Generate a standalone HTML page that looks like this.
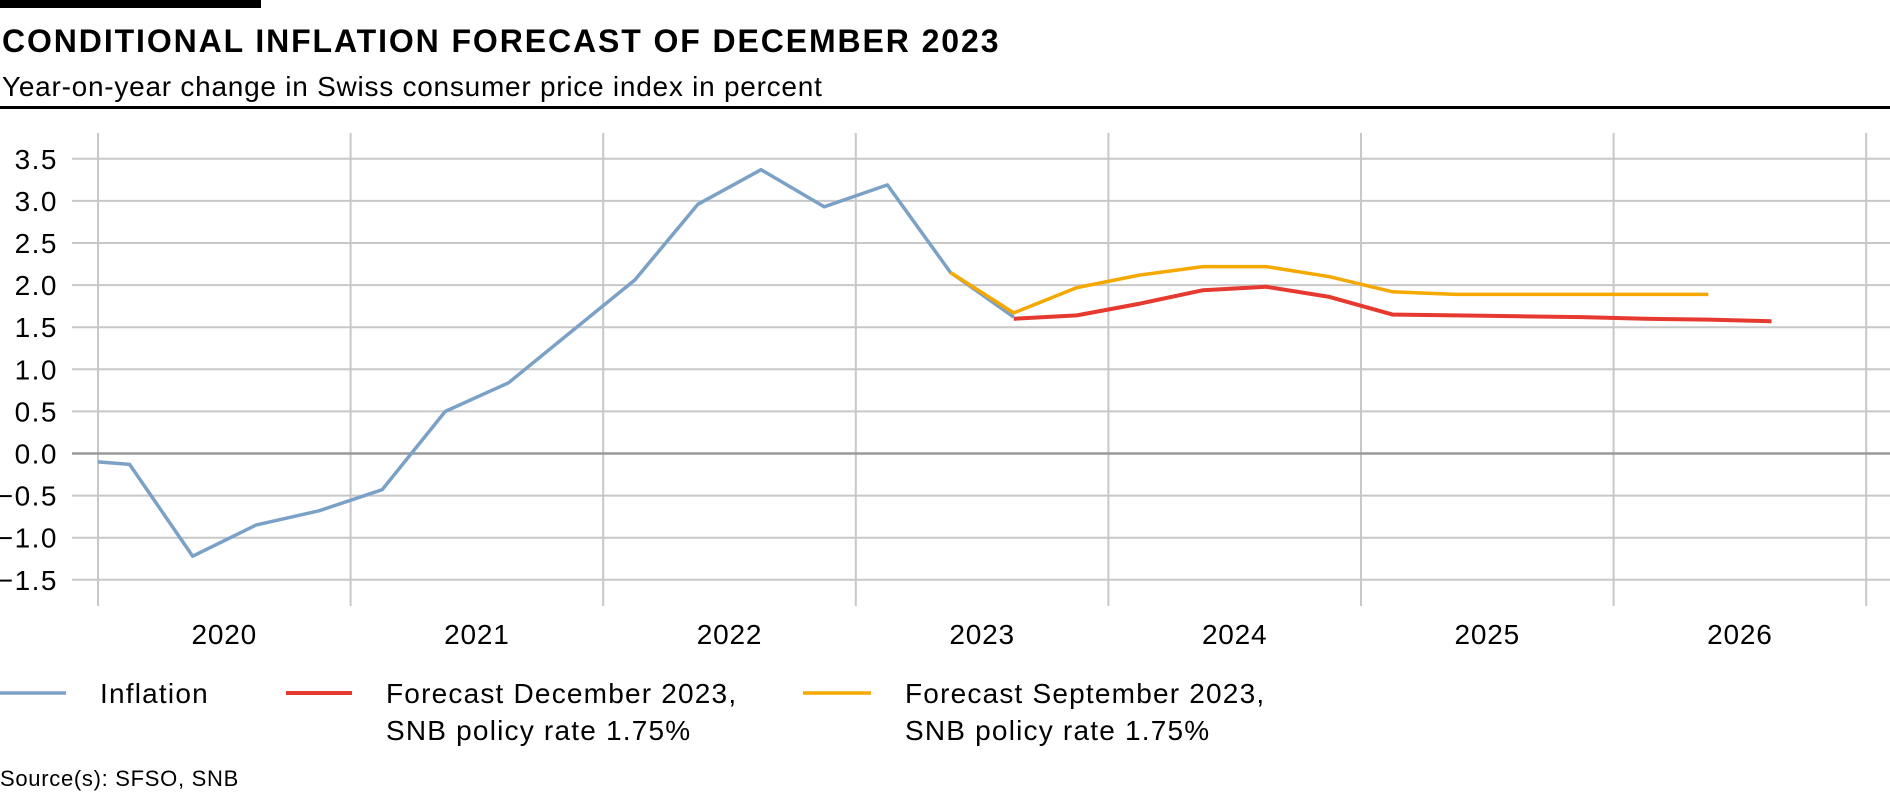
<!DOCTYPE html>
<html><head><meta charset="utf-8"><style>
html,body{margin:0;padding:0;background:#fff;}
svg{display:block;font-family:"Liberation Sans",Arial,sans-serif;}
</style></head><body>
<svg id="chart" width="1890" height="794" viewBox="0 0 1890 794">
<rect x="0" y="0" width="261" height="8" fill="#000"/>
<text x="2" y="52" font-size="32" font-weight="bold" letter-spacing="1.9" fill="#000">CONDITIONAL INFLATION FORECAST OF DECEMBER 2023</text>
<text x="2" y="96" font-size="28" letter-spacing="0.75" fill="#000">Year-on-year change in Swiss consumer price index in percent</text>
<rect x="0" y="106" width="1890" height="3" fill="#000"/>
<g id="grid"></g>
<g id="series"></g>
<g font-size="28" letter-spacing="1.2" fill="#000">
<line x1="0" y1="693" x2="66" y2="693" stroke="#7ba1c6" stroke-width="3.5"/>
<text x="100" y="703">Inflation</text>
<line x1="286" y1="693" x2="352" y2="693" stroke="#e63a30" stroke-width="4"/>
<text x="386" y="703">Forecast December 2023,</text>
<text x="386" y="740">SNB policy rate 1.75%</text>
<line x1="803" y1="693" x2="871" y2="693" stroke="#f5a800" stroke-width="3.5"/>
<text x="905" y="703">Forecast September 2023,</text>
<text x="905" y="740">SNB policy rate 1.75%</text>
</g>
<text x="0" y="786" font-size="22" letter-spacing="0.7" fill="#000">Source(s): SFSO, SNB</text>
</svg>
<script>
const yTicks = [3.5,3.0,2.5,2.0,1.5,1.0,0.5,0.0,-0.5,-1.0,-1.5];
const yTickLabels = ["3.5","3.0","2.5","2.0","1.5","1.0","0.5","0.0","\u22120.5","\u22121.0","\u22121.5"];
const years = ["2020","2021","2022","2023","2024","2025","2026"];
const inflationT = [2020.0,2020.125,2020.375,2020.625,2020.875,2021.125,2021.375,2021.625,2021.875,2022.125,2022.375,2022.625,2022.875,2023.125,2023.375,2023.625];
const inflationV = [-0.1,-0.13,-1.22,-0.85,-0.68,-0.43,0.50,0.84,1.45,2.06,2.96,3.37,2.93,3.19,2.15,1.62];
const decT = [2023.625,2023.875,2024.125,2024.375,2024.625,2024.875,2025.125,2025.375,2025.625,2025.875,2026.125,2026.375,2026.625];
const decV = [1.60,1.64,1.78,1.94,1.98,1.86,1.65,1.64,1.63,1.62,1.60,1.59,1.57];
const sepT = [2023.375,2023.625,2023.875,2024.125,2024.375,2024.625,2024.875,2025.125,2025.375,2025.625,2025.875,2026.125,2026.375];
const sepV = [2.15,1.67,1.97,2.12,2.22,2.22,2.10,1.92,1.89,1.89,1.89,1.89,1.89];

const NS="http://www.w3.org/2000/svg";
const X0=98, YW=252.6, Y0=453.5, PU=84.2;
function xS(t){return X0+(t-2020)*YW;}
function yS(v){return Y0-v*PU;}
const grid=document.getElementById('grid');
for(let i=0;i<=years.length;i++){
  const l=document.createElementNS(NS,'line');
  const x=xS(2020+i);
  l.setAttribute('x1',x);l.setAttribute('x2',x);l.setAttribute('y1',133);l.setAttribute('y2',606);
  l.setAttribute('stroke','#c8c8c8');l.setAttribute('stroke-width','2');
  
  
  grid.appendChild(l);
}
yTicks.forEach((v,i)=>{
  const l=document.createElementNS(NS,'line');
  const y=yS(v);
  l.setAttribute('x1',72);l.setAttribute('x2',1890);l.setAttribute('y1',y);l.setAttribute('y2',y);
  l.setAttribute('stroke',v===0?'#9a9a9a':'#c8c8c8');l.setAttribute('stroke-width',v===0?'2.5':'2');
  
  
  grid.appendChild(l);
  const t=document.createElementNS(NS,'text');
  t.setAttribute('x',58);t.setAttribute('y',y+10);t.setAttribute('text-anchor','end');
  t.setAttribute('font-size','28');t.setAttribute('letter-spacing','1.5');t.textContent=yTickLabels[i];
  
  
  grid.appendChild(t);
});
years.forEach((yr,i)=>{
  const t=document.createElementNS(NS,'text');
  t.setAttribute('x',xS(2020+i+0.5));t.setAttribute('y',644);t.setAttribute('text-anchor','middle');
  t.setAttribute('font-size','28');t.setAttribute('letter-spacing','0.8');t.textContent=yr;
  
  
  grid.appendChild(t);
});
const series=document.getElementById('series');
function draw(T,V,color,w,name){
  const p=document.createElementNS(NS,'polyline');
  p.setAttribute('points',T.map((t,i)=>xS(t).toFixed(1)+','+yS(V[i]).toFixed(1)).join(' '));
  p.setAttribute('fill','none');p.setAttribute('stroke',color);p.setAttribute('stroke-width',w);
  p.setAttribute('stroke-linejoin','round');
  
  
  series.appendChild(p);
}
draw(inflationT,inflationV,'#7ba1c6',3.5,'inflation-line');
draw(sepT,sepV,'#f5a800',3.5,'forecast-sep-2023-line');
draw(decT,decV,'#e63a30',4,'forecast-dec-2023-line');
</script>
</body></html>
